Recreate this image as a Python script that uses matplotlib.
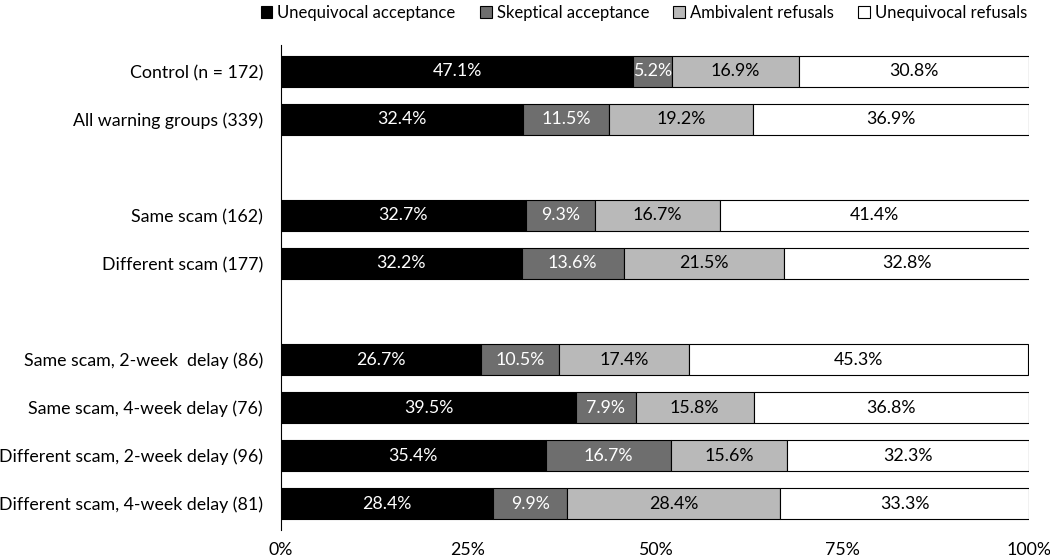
import numpy as np
import matplotlib
matplotlib.use("Agg")
from matplotlib import pyplot as plt

plt.rcParams['font.family'] = ['Lato', 'DejaVu Sans']

groups = [
    "Control (n = 172)",
    "All warning groups (339)",
    "Same scam (162)",
    "Different scam (177)",
    "Same scam, 2-week  delay (86)",
    "Same scam, 4-week delay (76)",
    "Different scam, 2-week delay (96)",
    "Different scam, 4-week delay (81)",
]
# slot of each bar (empty slots make the gaps between blocks)
slots = [0, 1, 3, 4, 6, 7, 8, 9]

series_names = ["Unequivocal acceptance", "Skeptical acceptance",
                "Ambivalent refusals", "Unequivocal refusals"]
unequivocal_acceptance = [47.1, 32.4, 32.7, 32.2, 26.7, 39.5, 35.4, 28.4]
skeptical_acceptance = [5.2, 11.5, 9.3, 13.6, 10.5, 7.9, 16.7, 9.9]
ambivalent_refusals = [16.9, 19.2, 16.7, 21.5, 17.4, 15.8, 15.6, 28.4]
unequivocal_refusals = [30.8, 36.9, 41.4, 32.8, 45.3, 36.8, 32.3, 33.3]

colors = ["#000000", "#6e6e6e", "#b9b9b9", "#ffffff"]
text_colors = ["white", "white", "black", "black"]

fs = 12.8

fig = plt.figure(figsize=(10.5, 5.6), dpi=100)
ax = fig.add_axes([0.2676, 0.0536, 0.9800 - 0.2676, 0.9196 - 0.0536])

y = np.array(slots)
left = np.zeros(len(groups))
all_series = [unequivocal_acceptance, skeptical_acceptance,
              ambivalent_refusals, unequivocal_refusals]
for name, vals, col, tc in zip(series_names, all_series, colors, text_colors):
    vals = np.array(vals)
    ax.barh(y, vals, left=left, height=0.64, color=col,
            edgecolor="black", linewidth=0.8, label=name)
    for yi, l, v in zip(y, left, vals):
        ax.text(l + v / 2, yi, f"{v:.1f}%", ha="center", va="center",
                color=tc, fontsize=fs)
    left += vals

ax.set_xlim(0, 100)
ax.set_ylim(9.55, -0.55)
ax.set_yticks(y)
ax.set_yticklabels(groups, fontsize=fs)
ax.set_xticks([0, 25, 50, 75, 100])
ax.set_xticklabels(["0%", "25%", "50%", "75%", "100%"], fontsize=fs)
ax.tick_params(axis="y", length=0, pad=13)
ax.tick_params(axis="x", length=0, pad=9)
for s in ["top", "right", "bottom"]:
    ax.spines[s].set_visible(False)
ax.spines["left"].set_linewidth(0.8)

ax.legend(loc="upper right", bbox_to_anchor=(1.006, 1.096), ncol=4,
          frameon=False, fontsize=12, handlelength=0.7, handleheight=0.7,
          handletextpad=0.3, columnspacing=1.45, borderaxespad=0)

fig.savefig("out.png", dpi=100)
